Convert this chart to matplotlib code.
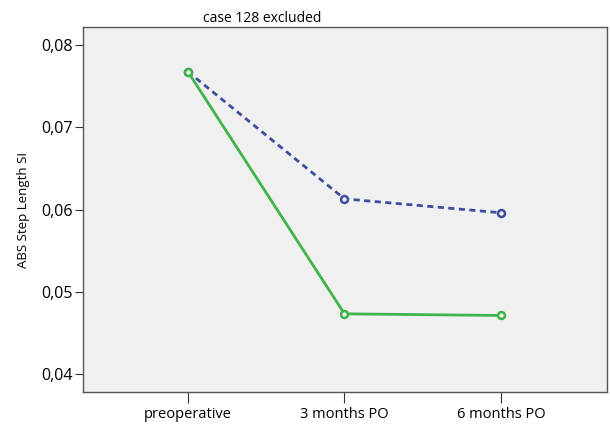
import matplotlib
matplotlib.use("Agg")
import matplotlib.pyplot as plt
from matplotlib.ticker import FuncFormatter

categories = ["preoperative", "3 months PO", "6 months PO"]
series_blue = [0.0768, 0.0613, 0.0596]
series_green = [0.0768, 0.0473, 0.0471]
yticks = [0.04, 0.05, 0.06, 0.07, 0.08]

plt.rcParams["font.family"] = ["Open Sans", "DejaVu Sans"]

fig = plt.figure(figsize=(6.1, 4.25), dpi=100)
ax = fig.add_axes([0.136, 0.078, 0.859, 0.858])
ax.set_facecolor("#f0f0f0")

x = range(len(categories))
ax.plot(x, series_blue, color="#3d4e9e", lw=2, ls=(0, (2.2, 1.6)),
        marker="o", ms=5, mfc="#f0f0f0", mec="#3d4e9e", mew=1.8)
ax.plot(x, series_green, color="#3db54a", lw=2,
        marker="o", ms=5, mfc="#f0f0f0", mec="#3db54a", mew=1.8)

ax.set_xlim(-0.669, 2.675)
ax.set_ylim(0.0378, 0.0822)
ax.set_xticks(list(x))
ax.set_xticklabels(categories, fontsize=10.5)
ax.set_yticks(yticks)
ax.yaxis.set_major_formatter(FuncFormatter(lambda v, p: f"{v:.2f}".replace(".", ",")))
ax.tick_params(axis="y", labelsize=11.5, length=6, pad=1, color="#333333")
ax.tick_params(axis="x", length=8, pad=3, color="#333333")
for s in ax.spines.values():
    s.set_color("#555555")
    s.set_linewidth(1)

ax.set_ylabel("ABS Step Length SI", fontsize=9.5)
ax.yaxis.set_label_coords(-0.102, 0.5)
fig.text(262 / 610, 0.956, "case 128 excluded", ha="center", va="center", fontsize=10)

fig.savefig("out.png", dpi=100)
